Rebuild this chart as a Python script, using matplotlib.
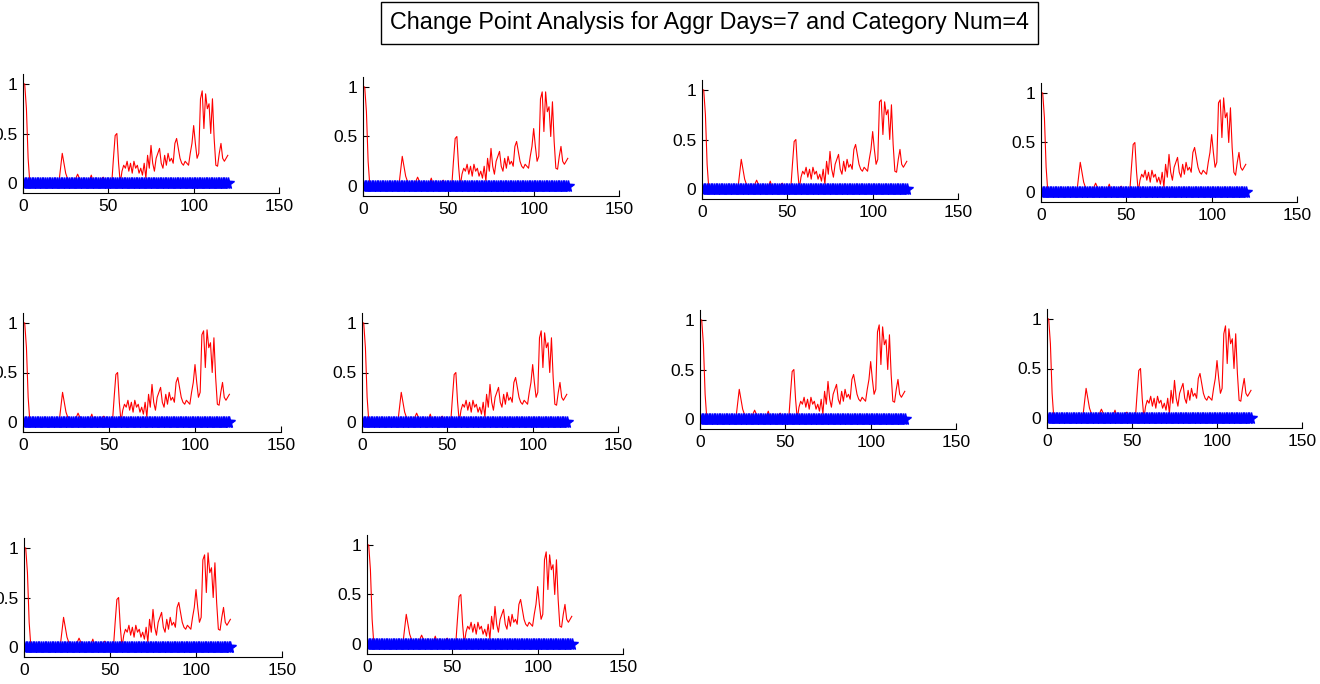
import matplotlib
matplotlib.use("Agg")
import matplotlib.pyplot as plt
import numpy as np

plt.rcParams['font.family'] = ['Liberation Sans', 'DejaVu Sans']

# titre
title = "Change Point Analysis for Aggr Days=7 and Category Num=4"

# indices des jours (0..120)
days = list(range(121))

# serie normalisee
base = [1.0, 1.0, 0.75, 0.25, 0.0, 0.0, 0.0, 0.0, 0.0, 0.0,
        0.0, 0.0, 0.0, 0.0, 0.0, 0.0, 0.0, 0.0, 0.0, 0.0,
        0.0, 0.0, 0.15, 0.3, 0.2, 0.1, 0.05, 0.02, 0.03, 0.01,
        0.02, 0.05, 0.09, 0.05, 0.02, 0.03, 0.01, 0.02, 0.01, 0.03,
        0.08, 0.02, 0.01, 0.02, 0.01, 0.02, 0.04, 0.06, 0.02, 0.01,
        0.01, 0.02, 0.0, 0.25, 0.48, 0.5, 0.2, 0.0, 0.12, 0.18,
        0.15, 0.22, 0.12, 0.2, 0.1, 0.22, 0.15, 0.18, 0.1, 0.15,
        0.08, 0.2, 0.05, 0.28, 0.15, 0.38, 0.2, 0.12, 0.25, 0.3,
        0.35, 0.2, 0.15, 0.28, 0.18, 0.3, 0.22, 0.25, 0.2, 0.4,
        0.45, 0.35, 0.25, 0.2, 0.18, 0.22, 0.2, 0.18, 0.3, 0.4,
        0.58, 0.4, 0.25, 0.3, 0.88, 0.95, 0.55, 0.95, 0.75, 0.8,
        0.5, 0.85, 0.45, 0.18, 0.17, 0.3, 0.4, 0.25, 0.22, 0.25,
        0.28]

# petites differences par panneau {indice: valeur}
edits = [
    {104: 0.85, 105: 0.93, 107: 0.9},
    {},
    {105: 0.9, 107: 0.88},
    {104: 0.9, 105: 0.93, 113: 0.2},
    {105: 0.92, 107: 0.93},
    {104: 0.85, 105: 0.92, 107: 0.9},
    {105: 0.95, 107: 0.93},
    {104: 0.85, 105: 0.93, 107: 0.9},
    {105: 0.93, 107: 0.95},
    {104: 0.85, 105: 0.93, 107: 0.9},
]

# position des panneaux en pixels (gauche, haut, largeur)
boxes = [(23, 74, 256), (363, 77, 256), (702, 80, 256), (1041, 83, 256),
         (23, 313, 258), (362, 313, 256), (700, 310, 256), (1047, 309, 255),
         (24, 538, 258), (367, 535, 256)]
H = 119
W, Hfig = 1320, 684

fig = plt.figure(figsize=(W / 100, Hfig / 100), dpi=100)

for k in range(10):
    serie = list(base)
    for i, v in edits[k].items():
        serie[i] = v
    l, t, w = boxes[k]
    ax = fig.add_axes([l / W, 1 - (t + H) / Hfig, w / W, H / Hfig])
    ax.plot(days, serie, color='red', lw=0.8)
    ax.plot(days, np.zeros(len(days)), color='blue', marker='*', ms=8.5, lw=1)
    ax.set_xlim(0, 150)
    ax.set_ylim(-0.1, 1.1)
    ax.set_xticks([0, 50, 100, 150])
    ax.set_yticks([0, 0.5, 1])
    ax.set_yticklabels(['0', '0.5', '1'])
    ax.spines['top'].set_visible(False)
    ax.spines['right'].set_visible(False)
    ax.tick_params(direction='in', length=4, labelsize=12.5, pad=4)

fig.text(0.5375, 1 - 23 / Hfig, title, ha='center', va='center', fontsize=16.8,
         bbox=dict(boxstyle='square,pad=0.4', fc='white', ec='black', lw=1))

fig.savefig('out.png', dpi=100)
